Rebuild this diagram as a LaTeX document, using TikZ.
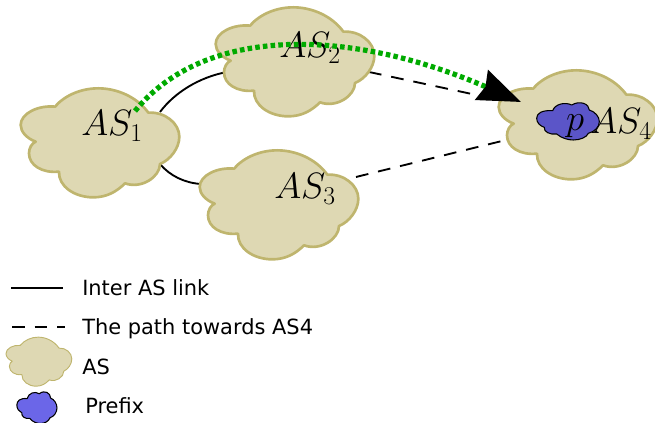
\RequirePackage{fix-cm}
\documentclass[tikz,border=0pt]{standalone}
\usepackage{fontspec}
\setmainfont{DejaVu Sans}
\usetikzlibrary{arrows.meta}
\definecolor{cloudfill}{HTML}{DED8B3}
\definecolor{cloudline}{HTML}{BFB56E}
\definecolor{prefixdark}{HTML}{5B55C8}
\definecolor{prefixlight}{HTML}{6B66E8}
\definecolor{pathgreen}{HTML}{00AA00}
\tikzset{
  ascloud/.pic={
    \path[pic actions,line join=round,x=0.25pt,y=-0.25pt]
      (165,320) .. controls (195,285) and (245,265) .. (295,265)
      .. controls (350,265) and (410,290) .. (445,338)
      .. controls (495,335) and (538,370) .. (538,410)
      .. controls (538,445) and (510,480) .. (480,492)
      .. controls (480,530) and (425,568) .. (375,550)
      .. controls (350,575) and (320,592) .. (280,592)
      .. controls (225,592) and (175,560) .. (177,515)
      .. controls (125,520) and (87,495) .. (87,460)
      .. controls (87,445) and (95,430) .. (107,425)
      .. controls (80,415) and (62,395) .. (62,375)
      .. controls (62,340) and (115,315) .. (165,320) -- cycle;
  },
  prefixcloud/.pic={
    \path[pic actions,line join=round,x=0.25pt,y=-0.25pt]
      (638,182) .. controls (605,180) and (590,190) .. (590,205)
      .. controls (590,218) and (600,228) .. (613,232)
      .. controls (610,245) and (630,255) .. (650,252)
      .. controls (665,265) and (685,270) .. (700,270)
      .. controls (720,270) and (740,262) .. (745,250)
      .. controls (765,245) and (778,230) .. (778,215)
      .. controls (778,200) and (765,185) .. (748,180)
      .. controls (748,162) and (720,150) .. (695,165)
      .. controls (675,155) and (645,162) .. (638,182) -- cycle;
  },
  bigcloud/.style={draw=cloudline,fill=cloudfill,line width=2pt},
  smallcloud/.style={draw=cloudline,fill=cloudfill,line width=0.7pt},
  prefixin/.style={draw=black,fill=prefixdark,line width=0.8pt},
  prefixleg/.style={draw=black,fill=prefixlight,line width=0.8pt},
  mathlabel/.style={inner sep=0pt,font=\fontsize{27.5}{31}\selectfont},
  legendlabel/.style={anchor=west,inner sep=0pt,font=\fontsize{15.7}{19}\selectfont},
  asdash/.style={black,line width=1.4pt,dash pattern=on 9.5pt off 7.5pt},
  aslink/.style={black,line width=1.4pt},
}
\begin{document}
\begin{tikzpicture}[x=0.75pt,y=-0.75pt]
\useasboundingbox (0,0) rectangle (655,423);
% connector ends
\coordinate (l1a) at (160,112);
\coordinate (l1b) at (227,72);
\coordinate (l2a) at (160,164);
\coordinate (l2b) at (201,184);
\coordinate (d1a) at (369,72);
\coordinate (d1b) at (500,100);
\coordinate (d2a) at (356,177);
\coordinate (d2b) at (506,140);
\coordinate (ga) at (135,111);
\coordinate (gb) at (521,102);
\coordinate (k1a) at (11,288);
\coordinate (k1b) at (63,288);
\coordinate (k2a) at (12,327);
\coordinate (k2b) at (65,327);
% links
\draw[aslink] (l1a) .. controls (175,92) and (200,77) .. (l1b);
\draw[aslink] (l2a) .. controls (170,176) and (185,183) .. (l2b);
\draw[asdash] (d1a) -- (d1b);
\draw[asdash] (d2a) -- (d2b);
% clouds
\pic[bigcloud] at (0,0) {ascloud};
\pic[bigcloud] at (195,-81) {ascloud};
\pic[bigcloud] at (179,62) {ascloud};
\pic[bigcloud] at (478,-18) {ascloud};
\pic[prefixin] at (340,50) {prefixcloud};
% labels
\node[mathlabel] (as1) at (112,126) {$AS_1$};
\node[mathlabel] (as2) at (310,48) {$AS_2$};
\node[mathlabel] (as3) at (305,189) {$AS_3$};
\node[mathlabel] (as4) at (621,124) {$AS_4$};
\node[mathlabel] (pp) at (575,126) {$p$};
% green path
\draw[pathgreen,line width=3.9pt,dash pattern=on 3.4pt off 2.4pt,
  -{Stealth[length=32pt,width=24pt,inset=3pt,black]}]
  (ga) .. controls (205,25) and (350,28) .. (gb);
% legend
\draw[aslink] (k1a) -- (k1b);
\draw[asdash] (k2a) -- (k2b);
\pic[smallcloud,xscale=.415,yscale=.45] at (-2.6,297.4) {ascloud};
\pic[prefixleg,xscale=.64,yscale=.85] at (-109,347) {prefixcloud};
\node[legendlabel] (t1) at (82,288) {Inter AS link};
\node[legendlabel] (t2) at (82,329) {The path towards AS4};
\node[legendlabel] (t3) at (82,367) {AS};
\node[legendlabel] (t4) at (85,406) {Prefix};
\end{tikzpicture}
\end{document}
